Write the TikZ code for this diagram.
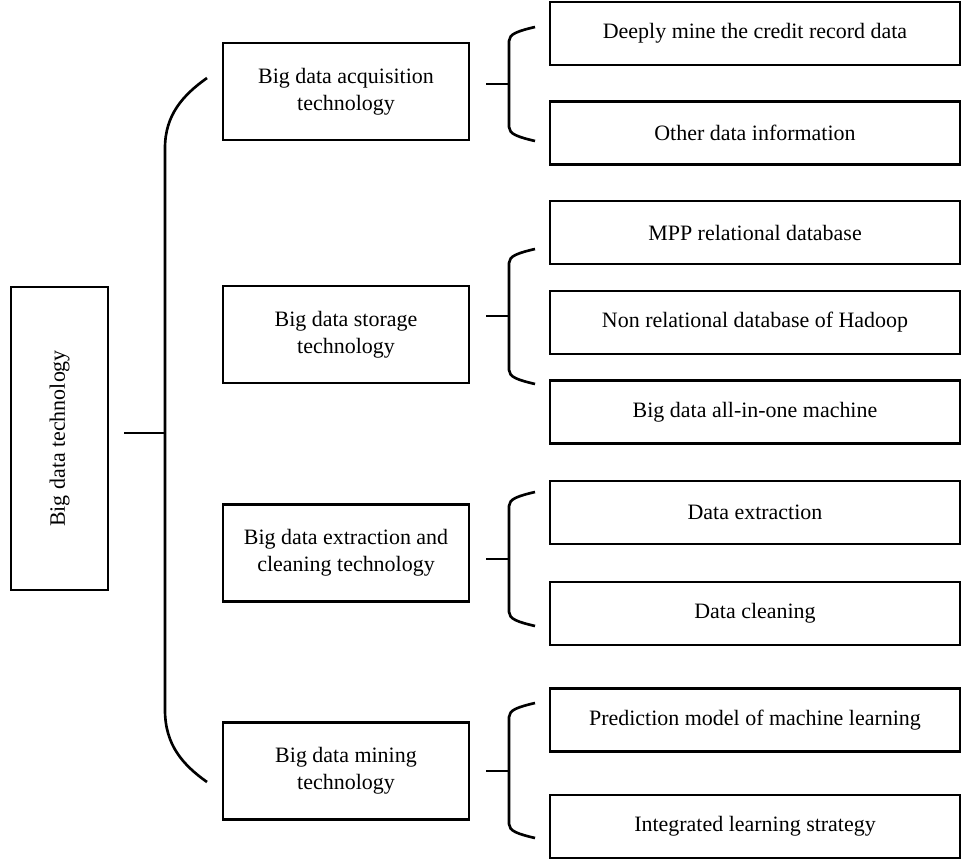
\documentclass[tikz,border=0pt]{standalone}
\usepackage{fontspec}
\setmainfont{Liberation Serif}
\usepackage{tikz}
\usetikzlibrary{calc}

\tikzset{
	box/.style={draw, line width=1.6pt, align=center, inner sep=0pt,
		font=\fontsize{12.5}{15.5}\selectfont},
	midbox/.style={box, minimum width=4.92cm, minimum height=1.94cm},
	leafbox/.style={box, minimum width=8.2cm, minimum height=1.26cm},
	brace/.style={line width=1.5pt}
}

\begin{document}
\begin{tikzpicture}[x=0.02cm,y=-0.02cm]
		\useasboundingbox (0,0) rectangle (962,865);
		% boxes
		\node[box, rotate=90, minimum width=6.06cm, minimum height=1.94cm] (root) at (59.5,438.5) {Big data technology};
		\node[midbox] (acq) at (346,91.5) {Big data acquisition\\technology};
		\node[midbox] (sto) at (346,334.5) {Big data storage\\technology};
		\node[midbox] (ext) at (346,553) {Big data extraction and\\cleaning technology};
		\node[midbox] (min) at (346,771) {Big data mining\\technology};
		\node[leafbox] (credit) at (755,33.5) {Deeply mine the credit record data};
		\node[leafbox] (other) at (755,133) {Other data information};
		\node[leafbox] (mpp) at (755,232.5) {MPP relational database};
		\node[leafbox] (hadoop) at (755,322.5) {Non relational database of Hadoop};
		\node[leafbox] (allinone) at (755,412) {Big data all-in-one machine};
		\node[leafbox] (extract) at (755,512.5) {Data extraction};
		\node[leafbox] (clean) at (755,613.5) {Data cleaning};
		\node[leafbox] (predict) at (755,720) {Prediction model of machine learning};
		\node[leafbox] (integr) at (755,826.5) {Integrated learning strategy};
		% big brace
		\coordinate (T0) at (124,433);
		\coordinate (M0) at (165,433);
		\coordinate (U0) at (207,78);
		\coordinate (D0) at (207,782);
		\draw[brace] (T0) -- (M0);
		\draw[brace] (U0) .. controls (183,95) and (165,115) .. (165,148)
			-- (165,710) .. controls (165,745) and (183,765) .. (D0);
		% acquisition brace
		\coordinate (T1) at (486,84);
		\coordinate (M1) at (509,84);
		\coordinate (U1) at (535,27);
		\coordinate (D1) at (535,141);
		\draw[brace] (T1) -- (M1);
		\draw[brace] (U1) .. controls (518,31) and (509,34) .. (509,41)
			-- (509,127) .. controls (509,134) and (518,137) .. (D1);
		% storage brace
		\coordinate (T2) at (486,316);
		\coordinate (M2) at (509,316);
		\coordinate (U2) at (535,249);
		\coordinate (D2) at (535,384);
		\draw[brace] (T2) -- (M2);
		\draw[brace] (U2) .. controls (518,253) and (509,256) .. (509,263)
			-- (509,370) .. controls (509,377) and (518,380) .. (D2);
		% extraction brace
		\coordinate (T3) at (486,559);
		\coordinate (M3) at (509,559);
		\coordinate (U3) at (535,492);
		\coordinate (D3) at (535,626);
		\draw[brace] (T3) -- (M3);
		\draw[brace] (U3) .. controls (518,496) and (509,499) .. (509,506)
			-- (509,612) .. controls (509,619) and (518,622) .. (D3);
		% mining brace
		\coordinate (T4) at (486,771);
		\coordinate (M4) at (509,771);
		\coordinate (U4) at (535,703);
		\coordinate (D4) at (535,838);
		\draw[brace] (T4) -- (M4);
		\draw[brace] (U4) .. controls (518,707) and (509,710) .. (509,717)
			-- (509,824) .. controls (509,831) and (518,834) .. (D4);
\end{tikzpicture}
\end{document}
